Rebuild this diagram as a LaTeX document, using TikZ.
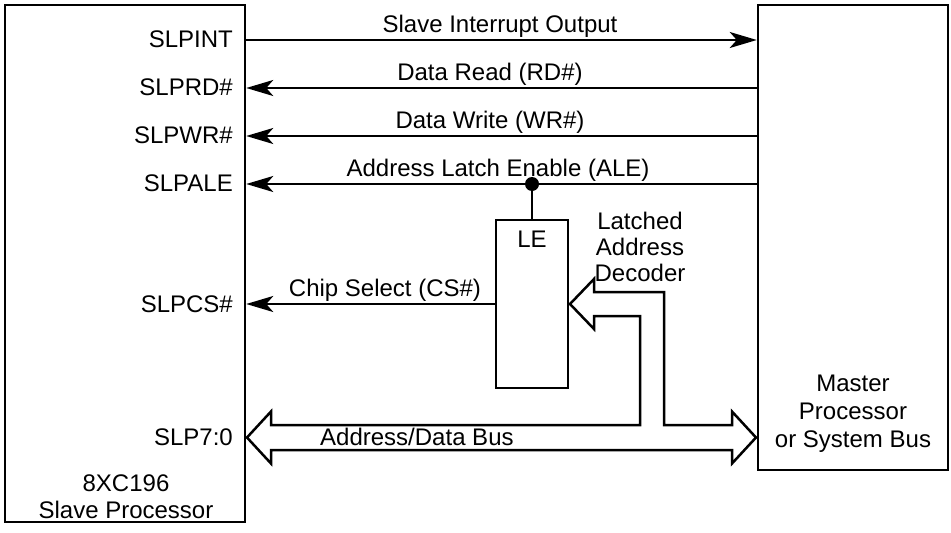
\documentclass[tikz,border=0pt]{standalone}
\usepackage{fontspec}
\setmainfont{Liberation Sans}
\usetikzlibrary{arrows.meta}
\begin{document}
\begin{tikzpicture}[x=1pt,y=-1pt,
  box/.style={draw, line width=2.5pt, inner sep=0pt, rectangle},
  lbl/.style={font=\fontsize{24}{27}\selectfont, inner sep=0pt},
  sig/.style={line width=2.4pt, -{Stealth[length=27pt,width=16pt,inset=7pt]}},
  wire/.style={line width=2.4pt},
  bus/.style={line width=2.5pt, line join=miter}]
\useasboundingbox (0,0) rectangle (951,533);
% boxes
\node[box, minimum width=240pt, minimum height=517pt] (slave) at (125,263.5) {};
\node[box, minimum width=190pt, minimum height=465pt] (master) at (853,237.5) {};
\node[box, minimum width=72pt, minimum height=168pt] (dec) at (532,304) {};
% signal levels
\coordinate (yint) at (0,40);
\coordinate (yrd) at (0,88);
\coordinate (ywr) at (0,136);
\coordinate (yale) at (0,184);
% signals
\draw[sig] (slave.east |- yint) -- (master.west |- yint);
\draw[sig] (master.west |- yrd) -- (slave.east |- yrd);
\draw[sig] (master.west |- ywr) -- (slave.east |- ywr);
\draw[sig] (master.west |- yale) -- (slave.east |- yale);
\node[circle, fill, inner sep=0pt, minimum size=14pt] (dot) at (dec.north |- yale) {};
\draw[wire] (dot) -- (dec.north);
\draw[sig] (dec.west) -- (slave.east |- dec.west);
% bus outline
\draw[bus] (247,437.5) -- (271,411.5) -- (271,425) -- (640,425) -- (640,316)
  -- (594,316) -- (594,329) -- (570,304) -- (594,279) -- (594,292) -- (664,292)
  -- (664,425) -- (732,425) -- (732,411.5) -- (756,437.5) -- (732,463.5)
  -- (732,450) -- (271,450) -- (271,463.5) -- cycle;
% signal labels
\node[lbl, anchor=base] at (500,32) {Slave Interrupt Output};
\node[lbl, anchor=base] at (490,80) {Data Read (RD\#)};
\node[lbl, anchor=base] at (490,128) {Data Write (WR\#)};
\node[lbl, anchor=base] at (498,176) {Address Latch Enable (ALE)};
\node[lbl, anchor=base] at (385,296) {Chip Select (CS\#)};
\node[lbl, anchor=base west] at (320,445) {Address/Data Bus};
% pin labels
\node[lbl, anchor=base east] at (233,47) {SLPINT};
\node[lbl, anchor=base east] at (233,95) {SLPRD\#};
\node[lbl, anchor=base east] at (233,143) {SLPWR\#};
\node[lbl, anchor=base east] at (233,191) {SLPALE};
\node[lbl, anchor=base east] at (233,312) {SLPCS\#};
\node[lbl, anchor=base east] at (233,445) {SLP7:0};
% block labels
\node[lbl, anchor=base] at (532,247) {LE};
\node[lbl, align=center, font=\fontsize{24}{26}\selectfont] at (640,246.5) {Latched\\Address\\Decoder};
\node[lbl, align=center, font=\fontsize{24}{28}\selectfont] at (853,414) {Master\\Processor\\or System Bus};
\node[lbl, align=center, font=\fontsize{24}{27}\selectfont] at (126,497) {8XC196\\Slave Processor};
\end{tikzpicture}
\end{document}
